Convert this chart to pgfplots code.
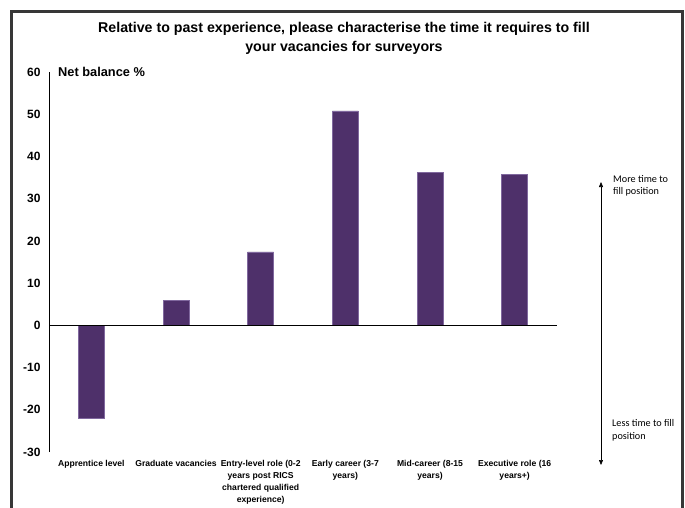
\documentclass[border=0pt]{standalone}
\usepackage{pgfplots}
\pgfplotsset{compat=1.18}
\usepackage{fontspec}
\setmainfont{Liberation Sans}
\newfontfamily\calibri{Carlito}
\usetikzlibrary{arrows.meta}
\definecolor{barpurple}{RGB}{78,48,106}
\definecolor{baredge}{RGB}{128,104,158}
\definecolor{framegray}{RGB}{55,55,55}

\begin{document}
\begin{tikzpicture}[x=1pt,y=1pt]
\useasboundingbox (0,0) rectangle (685,507);
\clip (0,0) rectangle (685,507);
% outer frame (open at the bottom edge of the page)
\draw[framegray, line width=3pt] (11,-10) -- (11,495.5) -- (682,495.5) -- (682,-10);

\begin{axis}[
  at={(49pt,55pt)}, anchor=south west,
  scale only axis, width=508pt, height=380pt,
  xmin=-0.5, xmax=5.5, ymin=-30, ymax=60,
  ytick={-30,-20,...,60},
  xtick={0,...,5},
  xticklabels={
    Apprentice level,
    Graduate vacancies,
    {Entry-level role (0-2\\years post RICS\\chartered qualified\\experience)},
    {Early career (3-7\\years)},
    {Mid-career (8-15\\years)},
    {Executive role (16\\years+)}},
  axis line style={draw=none},
  major tick length=0pt,
  ybar, bar width=26pt, bar shift=0pt,
  /pgf/number format/assume math mode=true,
  yticklabel style={font=\bfseries\fontsize{12}{14}\selectfont, xshift=-5pt},
  xticklabel style={font=\bfseries\fontsize{8.6}{12}\selectfont, align=center, anchor=north, yshift=-5pt},
  clip=false,
]
\addplot[fill=barpurple, draw=baredge, line width=0.5pt] coordinates {
  (0,-22.0) (1,6.0) (2,17.4) (3,50.8) (4,36.3) (5,35.8)};
\draw[black, line width=0.7pt] (axis cs:-0.5,-30) -- (axis cs:-0.5,60);
\draw[black, line width=1.2pt] (axis cs:-0.5,0) -- (axis cs:5.5,0);
\end{axis}

% title
\node[font=\bfseries\fontsize{14.2}{18.5}\selectfont, align=center] at (344,468.5)
  {Relative to past experience, please characterise the time it requires to fill\\your vacancies for surveyors};
\node[anchor=west, font=\bfseries\fontsize{12.8}{14}\selectfont, inner sep=0pt] at (58,435) {Net balance \%};

% direction arrow and notes
\draw[{Triangle[length=5pt,width=4pt]}-{Triangle[length=5pt,width=4pt]}, line width=0.6pt]
  (601,325) -- (601,42);
\node[anchor=west, align=left, inner sep=0pt, font=\calibri\fontsize{10.2}{12}\selectfont] at (613,321)
  {More time to\\fill position};
\node[anchor=west, align=left, inner sep=0pt, font=\calibri\fontsize{10.2}{13}\selectfont] at (612,76.5)
  {Less time to fill\\position};
\end{tikzpicture}
\end{document}
